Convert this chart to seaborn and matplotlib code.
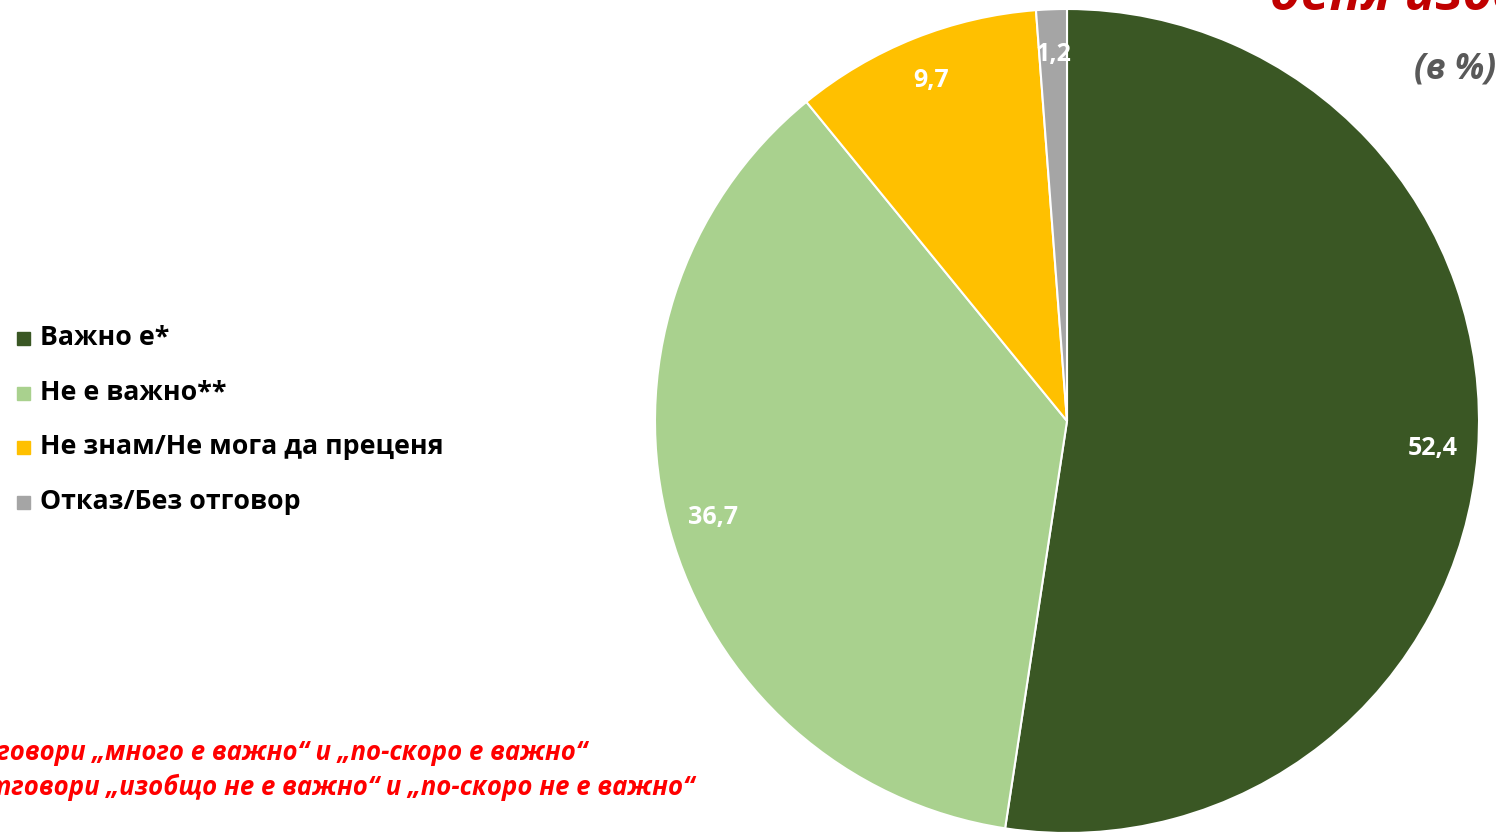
import matplotlib
matplotlib.use("Agg")
import matplotlib.pyplot as plt
import seaborn as sns
from matplotlib.patches import Rectangle

sns.set_theme(style="white")
plt.rcParams['font.family'] = ['Open Sans', 'DejaVu Sans']

categories = ["Важно е*", "Не е важно**", "Не знам/Не мога да преценя", "Отказ/Без отговор"]
values = [52.4, 36.7, 9.7, 1.2]
value_labels = ["52,4", "36,7", "9,7", "1,2"]
colors = ["#3A5724", "#A9D18E", "#FFC000", "#A5A5A5"]

title_text = "деня изборите"
unit_text = "(в %)"
foot1 = "* Сбор от отговори „много е важно“ и „по-скоро е важно“"
foot2 = "** Сбор от отговори „изобщо не е важно“ и „по-скоро не е важно“"

W, H = 1496, 832
fig = plt.figure(figsize=(W / 100, H / 100), dpi=100)

cx, cy, r = 1067, H - 421, 412
ax = fig.add_axes([(cx - r) / W, (cy - r) / H, 2 * r / W, 2 * r / H])
lab_iter = iter(value_labels)
wedges, texts, autotexts = ax.pie(
    values, colors=colors, startangle=90, counterclock=False,
    autopct=lambda p: next(lab_iter), pctdistance=0.89,
    wedgeprops=dict(edgecolor="white", linewidth=1.5),
    textprops=dict(color="white", fontsize=18, fontweight="bold"),
)
ax.set_xlim(-1, 1)
ax.set_ylim(-1, 1)
ax.set_aspect("equal")
ax.axis("off")

# legend
ys = [338, 393, 447, 502]
for cat, col, y in zip(categories, colors, ys):
    fig.patches.append(Rectangle((17 / W, (H - y - 7) / H), 13 / W, 13 / H,
                                 transform=fig.transFigure, color=col))
    fig.text(40 / W, (H - y) / H, cat, fontsize=19.3, fontweight="bold",
             color="black", va="center", ha="left")

# title (clipped at top edge, as in the reference)
fig.text(1270 / W, (H - 10) / H, title_text, fontsize=37, fontweight="bold",
         style="italic", color="#C00000", ha="left", va="baseline")
fig.text(1496 / W, (H - 70) / H, unit_text, fontsize=25, fontweight="bold",
         style="italic", color="#595959", ha="right", va="center")

# footnotes (clipped at left edge, as in the reference)
fig.text(587 / W, (H - 752) / H, foot1, fontsize=18.5, fontweight="bold",
         style="italic", color="#FF0000", ha="right", va="center")
fig.text(694 / W, (H - 787) / H, foot2, fontsize=18.5, fontweight="bold",
         style="italic", color="#FF0000", ha="right", va="center")

fig.savefig("out.png", dpi=100, facecolor="white")
